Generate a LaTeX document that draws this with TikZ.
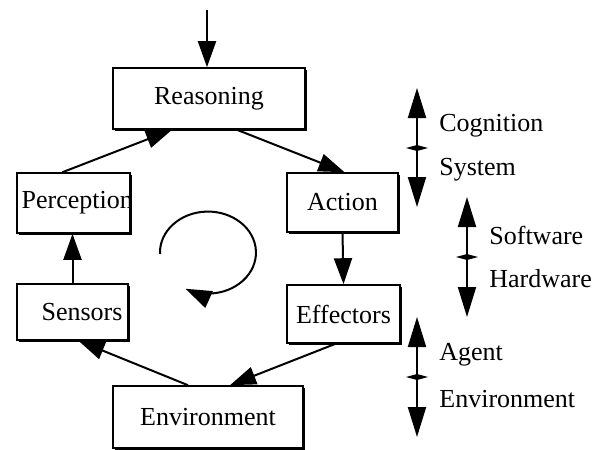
\documentclass[tikz,border=0pt]{standalone}
\usepackage{fontspec}
\setmainfont{Liberation Serif}
\usetikzlibrary{arrows.meta, positioning, shadows}

\tikzset{
  block/.style={draw, fill=white, line width=0.8pt, inner sep=2pt,
    font=\fontsize{13}{15}\selectfont,
    drop shadow={shadow xshift=1pt, shadow yshift=-1pt, fill=black, opacity=1}},
  flow/.style={line width=1pt, -{Triangle[length=13pt,width=9pt]}},
  level/.style={line width=1pt, {Triangle[length=15pt,width=9pt]}-{Triangle[length=15pt,width=9pt]}},
  tag/.style={anchor=west, inner sep=0pt, font=\fontsize{13}{15}\selectfont}
}

\begin{document}
\begin{tikzpicture}[x=0.5pt, y=-0.5pt]
\useasboundingbox (0,0) rectangle (600,450);

\node[block, minimum width=96pt, minimum height=30.5pt] (reasoning) at (209,98.5) {Reasoning};
\node[block, minimum width=56.5pt, minimum height=30pt,
  path picture={\node[anchor=west, inner sep=0pt, font=\fontsize{13}{15}\selectfont]
    at ([xshift=1.5pt]path picture bounding box.west) {Perception};}] (perception) at (73.5,203) {};
\node[block, minimum width=55.5pt, minimum height=28pt, text width=50pt, align=right] (sensors) at (72.5,312) {Sensors};
\node[block, minimum width=95pt, minimum height=31pt] (environment) at (208,417) {Environment};
\node[block, minimum width=55.5pt, minimum height=29.5pt] (action) at (342.5,202.5) {Action};
\node[block, minimum width=56.5pt, minimum height=29pt] (effectors) at (343.5,314) {Effectors};

% input from above
\coordinate (goal) at (207,10);
\draw[flow] (goal) -- ([xshift=-1pt]reasoning.north);

% the loop
\draw[flow] ([xshift=-5.5pt]perception.north) -- ([xshift=-18.5pt]reasoning.south);
\draw[flow] ([xshift=14pt]reasoning.south) -- ([xshift=1pt]action.north);
\draw[flow] (action.south) -- (effectors.north);
\draw[flow] ([xshift=-4pt]effectors.south) -- ([xshift=11pt]environment.north);
\draw[flow] ([xshift=-10pt]environment.north) -- ([xshift=3pt]sensors.south);
\draw[flow] (sensors.north) -- (sensors.north |- perception.south);

% cycle sign
\coordinate (turn) at (160,254);
\draw[flow] (turn) arc[start angle=182, end angle=-118, x radius=24pt, y radius=20.5pt];

% levels
\foreach \x/\top/\mid/\bot/\up/\down in {417/88/148/207/Cognition/System,
                                        467/197/257/317/Software/Hardware,
                                        417/317/377/437/Agent/Environment} {
  \draw[level] (\x,\top) -- (\x,\bot);
  \fill (\x-11,\mid) -- (\x,\mid-3) -- (\x+11,\mid) -- (\x,\mid+3) -- cycle;
  \node[tag] at (\x+22,\mid-22) {\up};
  \node[tag] at (\x+22,\mid+22) {\down};
}
\end{tikzpicture}
\end{document}
